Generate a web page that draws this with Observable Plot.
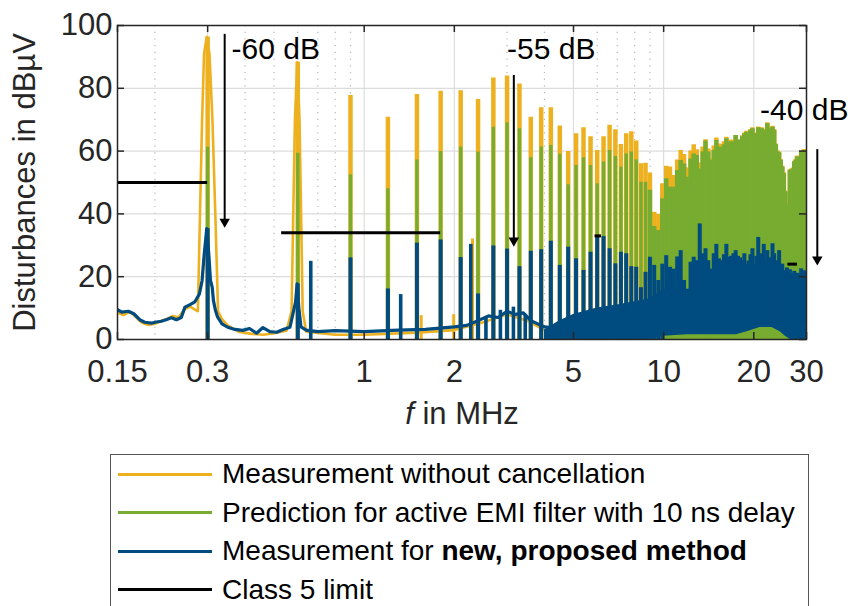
<!DOCTYPE html>
<html><head><meta charset="utf-8">
<script src="https://cdn.jsdelivr.net/npm/d3@7"></script>
<script src="https://cdn.jsdelivr.net/npm/@observablehq/plot@0.6"></script>
<style>
body{margin:0;background:#fff;font-family:"Liberation Sans",Arial,sans-serif;}
#wrap{position:relative;width:850px;height:606px;overflow:hidden;background:#fff;}
#legend{position:absolute;left:110px;top:454px;width:699px;height:170px;border:1px solid #555;box-sizing:border-box;background:#fff;}
.row{display:flex;align-items:center;height:38.5px;font-size:28px;color:#000;white-space:nowrap;}
.sw{width:94px;height:3px;margin-left:7px;margin-right:10px;flex:none;}
</style></head>
<body><div id="wrap"><div id="chart"></div><div id="legend"></div></div>
<script>
// ---------- data ----------
const xTicks = [0.15, 0.3, 1, 2, 5, 10, 20, 30];
const xTickLabels = ["0.15", "0.3", "1", "2", "5", "10", "20", "30"];
const yTicks = [0, 20, 40, 60, 80, 100];
const majorGridX = [0.3, 1, 2, 5, 10, 20];
const minorGridX = [0.2, 0.4, 0.5, 0.6, 0.7, 0.8, 0.9, 3, 4, 6, 7, 8, 9];
const gridY = [20, 40, 60, 80];

// harmonics of the 300 kHz switching frequency (MHz)
const harmonicF = [
 0.3,0.6,0.9,1.2,1.5,1.8,2.1,2.4,2.7,3.0,
 3.3,3.6,3.9,4.2,4.5,4.8,5.1,5.4,5.7,6.0,
 6.3,6.6,6.9,7.2,7.5,7.8,8.1,8.4,8.7,9.0,
 9.3,9.6,9.9,10.2,10.5,10.8,11.1,11.4,11.7,12.0,
 12.3,12.6,12.9,13.2,13.5,13.8,14.1,14.4,14.7,15.0,
 15.3,15.6,15.9,16.2,16.5,16.8,17.1,17.4,17.7,18.0,
 18.3,18.6,18.9,19.2,19.5,19.8,20.1,20.4,20.7,21.0,
 21.3,21.6,21.9,22.2,22.5,22.8,23.1,23.4,23.7,24.0,
 24.3,24.6,24.9,25.2,25.5,25.8,26.1,26.4,26.7,27.0,
 27.3,27.6,27.9,28.2,28.5,28.8,29.1,29.4,29.7,30.0];
// peak levels (dBµV) at each harmonic
const orangePeak = [
 96.3,88.3,77.7,70.8,78.0,79.1,79.2,76.4,83.3,83.9,
 81.4,70.8,73.8,73.8,68.0,59.9,65.5,67.4,64.6,60.2,
 64.6,68.2,66.8,62.1,65.5,66.2,63.2,56.0,56.1,53.0,
 40.5,39.8,49.6,55.2,54.9,52.2,57.2,60.2,58.9,54.7,
 60.0,62.0,60.4,56.3,61.3,63.6,60.7,57.5,61.6,64.2,
 62.3,62.1,63.0,64.4,62.8,63.5,63.2,65.0,63.5,62.8,
 64.9,65.8,66.3,65.3,66.9,67.4,65.8,65.3,67.7,66.1,
 67.4,65.8,66.8,69.0,67.4,66.5,67.9,66.9,62.3,60.0,
 59.7,57.3,55.2,53.1,47.3,43.0,42.5,54.1,54.3,54.6,
 56.8,57.3,58.4,57.3,58.3,60.0,59.3,60.5,59.4,55.3];
const greenPeak = [
 61.2,59.3,52.5,48.0,57.2,59.9,61.3,59.7,67.6,69.0,
 67.1,57.9,61.3,61.8,59.0,49.3,55.4,57.9,55.4,49.6,
 56.5,60.2,58.3,54.9,59.1,59.7,57.2,50.1,50.1,47.5,
 36.0,34.7,44.8,51.2,48.5,48.5,53.8,57.0,55.9,51.7,
 57.5,59.1,58.6,54.3,59.7,63.2,59.7,57.0,60.2,63.4,
 61.3,61.1,62.0,63.9,62.5,63.0,62.8,65.0,63.5,62.8,
 64.6,65.5,66.0,65.0,66.6,67.1,65.5,65.0,67.4,65.8,
 67.1,65.5,66.5,68.7,67.1,66.2,67.6,66.6,62.0,59.7,
 59.4,57.0,54.9,52.8,47.0,42.7,42.2,53.8,54.0,54.3,
 56.5,57.0,58.1,57.0,58.0,59.7,59.0,60.2,59.1,55.0];
const bluePeak = [
 35.3,17.7,26.0,16.1,30.7,31.7,26.1,14.5,29.8,28.8,
 23.2,28.1,28.6,31.3,23.6,29.4,25.7,22.0,27.8,32.6,
 32.8,28.9,24.1,27.8,27.3,23.2,23.0,16.5,21.4,26.2,
 23.6,18.8,24.0,26.7,23.0,22.4,26.3,28.3,18.8,15.4,
 24.6,26.2,25.1,36.8,27.3,28.9,25.1,22.4,27.3,30.3,
 25.7,25.1,27.0,30.3,26.2,26.5,27.3,28.3,26.5,26.0,
 25.1,27.3,24.0,25.0,27.0,28.9,24.0,26.5,32.5,25.0,
 27.3,30.3,25.0,28.3,26.0,23.0,30.5,27.3,23.0,25.1,
 28.3,22.0,24.0,21.9,20.0,22.8,20.9,22.2,19.0,20.9,
 21.7,19.0,21.1,20.9,19.5,22.5,20.0,21.9,21.4,20.0];

// additional non-harmonic spikes
const blueExtraF = [0.663, 1.324, 2.27, 2.55, 2.85, 3.15, 3.45];
const blueExtraV = [24.9, 14.3, 30.3, 7.1, 9.3, 10.3, 8.0];
const orangeExtraF = [1.55, 1.99, 2.3];
const orangeExtraV = [7.6, 7.9, 32.0];

// noise floor / broadband traces
const orangeFloorF = [0.150,0.157,0.165,0.172,0.18,0.19,0.20,0.21,0.22,0.23,0.24,0.25,0.262,0.272,
 0.2783,0.2826,0.2875,0.2918,0.2979,0.3042,0.3113,0.3187,0.325,0.335,0.35,0.38,0.42,0.46,0.5,0.55,
 0.572,0.579,0.587,0.5975,0.608,0.616,0.623,0.64,0.8,1.0,1.5,2.0,2.5,3.0,3.5,4.0,5.0,10,30];
const orangeFloorV = [8.5,7.8,8.8,7.3,5.5,4.6,5.0,5.9,6.6,7.5,7.0,9.5,10.5,9.5,
 9,38,70,91,96.3,91,70,38,9,6.5,4.5,2.5,1.8,1.5,2.0,2.8,
 9,38,70,88.3,70,38,9,2.5,1.5,1.5,2.2,3.0,5.5,8.0,6.0,3.0,1.5,1.2,1.0];
const blueFloorF = [0.150,0.155,0.163,0.170,0.178,0.185,0.195,0.200,0.210,0.218,0.227,0.236,0.245,0.252,0.262,0.272,
 0.2816,0.2875,0.2923,0.298,0.3026,0.3066,0.3107,0.3137,0.3187,0.3241,0.335,0.350,0.37,0.393,0.414,0.437,0.459,0.484,
 0.51,0.536,0.565,0.59,0.597,0.605,0.615,0.64,0.7,0.8,1.0,1.3,1.6,2.0,2.2,2.4,2.6,2.8,3.0,3.2,3.4,3.6,4.0,4.5,5.0];
const blueFloorV = [9.5,8.7,9.0,8.2,6.3,5.5,5.2,5.5,5.8,6.3,6.9,6.3,7.0,10.3,11.1,12.0,
 14.5,18.8,27.3,35.3,27.3,18.8,16.7,12.4,9.2,7.1,5.0,3.9,3.2,2.9,3.5,2.0,3.8,2.5,
 2.3,3.2,3.9,12.0,17.7,10.0,4.0,3.0,2.5,2.8,2.5,3.0,3.2,4.0,4.5,6.0,7.5,7.0,9.0,8.0,8.5,6.0,4.0,3.5,3.0];
// dense blue region (lower and upper edge of the filled band)
const blueBandF = [4.0,4.5,5.0,6.0,7.0,8.0,9.0,10.0,12.0,14.0,16.0,17.5,19.0,21.0,23.0,24.5,25.5,26.5,28.0,30.0];
const blueBandLow = [0,0,0,0,0,0,0,1,1.5,1.5,1.5,1.5,2.5,3.8,3.8,2.5,1,0,0,0];
const blueBandHigh = [3,6,8,10,11,12,13,16,16,17,18,18,19,19,18,17,15,14,14,14];

// class 5 limit segments
const limitF1 = [0.15, 0.53, 5.9, 26];
const limitF2 = [0.3, 1.8, 6.2, 28];
const limitLevel = [50, 34, 33, 24];

// attenuation annotations
const arrowF = [0.342, 3.16, 32.6];
const arrowTop = [95.9, 82.8, 59.2];
const arrowTip = [35, 29, 23];
const arrowLabel = ["-60 dB", "-55 dB", "-40 dB"];
const labelF = [0.3605, 3.0, 21.0];
const labelY = [92.5, 92.5, 73.1];

// ---------- build tables ----------
const harmonics = harmonicF.map((f, i) => ({f, orange: orangePeak[i], green: greenPeak[i], blue: bluePeak[i]}));
const blueExtra = blueExtraF.map((f, i) => ({f, v: blueExtraV[i]}));
const orangeExtra = orangeExtraF.map((f, i) => ({f, v: orangeExtraV[i]}));
const orangeFloor = orangeFloorF.map((f, i) => ({f, v: orangeFloorV[i]}));
const blueFloor = blueFloorF.map((f, i) => ({f, v: blueFloorV[i]}));
const blueBand = blueBandF.map((f, i) => ({f, lo: blueBandLow[i], hi: blueBandHigh[i]}));
const limits = limitF1.map((f1, i) => ({f1, f2: limitF2[i], level: limitLevel[i]}));
const arrows = arrowF.map((f, i) => ({f, top: arrowTop[i], tip: arrowTip[i], label: arrowLabel[i], lf: labelF[i], ly: labelY[i]}));

const C_OR = "#EDB120", C_GR = "#77AC30", C_BL = "#004B7F", C_AX = "#262626";
const tickLabel = new Map(xTicks.map((d, i) => [d, xTickLabels[i]]));

const W = 850, H = 448, ML = 117, MR = 44, MT = 25, MB = 109;
const FW = W - ML - MR, FH = H - MT - MB, TL = 7;

const chart = Plot.plot({
  width: W, height: H,
  marginLeft: ML, marginRight: MR, marginTop: MT, marginBottom: MB,
  style: {fontFamily: "Liberation Sans, Arial, sans-serif", fontSize: "31px", color: C_AX, background: "white", overflow: "visible"},
  x: {type: "log", domain: [0.15, 30], ticks: xTicks, tickFormat: d => tickLabel.get(d), tickSize: 0, tickPadding: 20,
      label: "f in MHz", labelAnchor: "center", labelArrow: "none", labelOffset: 84},
  y: {domain: [0, 100], ticks: yTicks, tickSize: 0, tickPadding: 5,
      label: "Disturbances in dBµV", labelAnchor: "center", labelArrow: "none", labelOffset: 105},
  marks: [
    Plot.ruleX(minorGridX, {x: d => d, stroke: "#b5b5b5", strokeWidth: 1.2, strokeDasharray: "1.2,5.5"}),
    Plot.ruleX(majorGridX, {x: d => d, stroke: "#dcdcdc", strokeWidth: 1.2}),
    Plot.ruleY(gridY, {y: d => d, stroke: "#dcdcdc", strokeWidth: 1.2}),
    // orange: measurement without cancellation
    Plot.line(orangeFloor, {x: "f", y: "v", stroke: C_OR, strokeWidth: 2.6, clip: true}),
    Plot.ruleX(harmonics, {x: "f", y1: 0, y2: "orange", stroke: C_OR, strokeWidth: 4.5, clip: true}),
    Plot.ruleX(orangeExtra, {x: "f", y1: 0, y2: "v", stroke: C_OR, strokeWidth: 3, clip: true}),
    // green: prediction
    Plot.ruleX(harmonics, {x: "f", y1: 0, y2: "green", stroke: C_GR, strokeWidth: d => (d.f >= 9 ? 4.5 : 3.4), clip: true}),
    // blue: proposed method
    Plot.areaY(blueBand, {x: "f", y1: "lo", y2: "hi", fill: C_BL, clip: true}),
    Plot.line(blueFloor, {x: "f", y: "v", stroke: C_BL, strokeWidth: 3.2, clip: true}),
    Plot.ruleX(harmonics, {x: "f", y1: d => (d.f >= 10 ? 5 : 0), y2: "blue", stroke: C_BL, strokeWidth: 4, clip: true}),
    Plot.ruleX(blueExtra, {x: "f", y1: 0, y2: "v", stroke: C_BL, strokeWidth: 3.6, clip: true}),
    // class 5 limit
    Plot.ruleY(limits, {y: "level", x1: "f1", x2: "f2", stroke: "#000", strokeWidth: 3}),
    // frame & inner ticks
    Plot.frame({stroke: C_AX, strokeWidth: 1.5}),
    Plot.ruleX(xTicks, {x: d => d, insetTop: FH - TL, stroke: C_AX, strokeWidth: 1.5}),
    Plot.ruleX(xTicks, {x: d => d, insetBottom: FH - TL, stroke: C_AX, strokeWidth: 1.5}),
    Plot.ruleY(yTicks, {y: d => d, insetRight: FW - TL, stroke: C_AX, strokeWidth: 1.5}),
    Plot.ruleY(yTicks, {y: d => d, insetLeft: FW - TL, stroke: C_AX, strokeWidth: 1.5}),
    // annotations
    Plot.ruleX(arrows, {x: "f", y1: "top", y2: "tip", dy: -4, stroke: "#000", strokeWidth: 2, clip: false}),
    Plot.dot(arrows, {x: "f", y: "tip", symbol: "triangle2", r: 5, rotate: 180, dy: -7.8, fill: "#000", stroke: "none", clip: false}),
    Plot.text(arrows, {x: "lf", y: "ly", text: "label", textAnchor: "start", lineAnchor: "middle", fontSize: 30, fill: "#000", clip: false})
  ]
});
document.getElementById("chart").appendChild(chart);

// italic f in the x-axis label
const xl = chart.querySelector('[aria-label="x-axis label"] text');
if (xl) xl.innerHTML = '<tspan font-style="italic">f</tspan> in MHz';

// legend
const legendItems = [
  {color: C_OR, html: "Measurement without cancellation"},
  {color: C_GR, html: "Prediction for active EMI filter with 10 ns delay"},
  {color: C_BL, html: "Measurement for <b>new, proposed method</b>"},
  {color: "#000", html: "Class 5 limit"}
];
document.getElementById("legend").innerHTML = legendItems.map(d =>
  `<div class="row"><span class="sw" style="background:${d.color}"></span><span>${d.html}</span></div>`).join("");
</script>
</body></html>
